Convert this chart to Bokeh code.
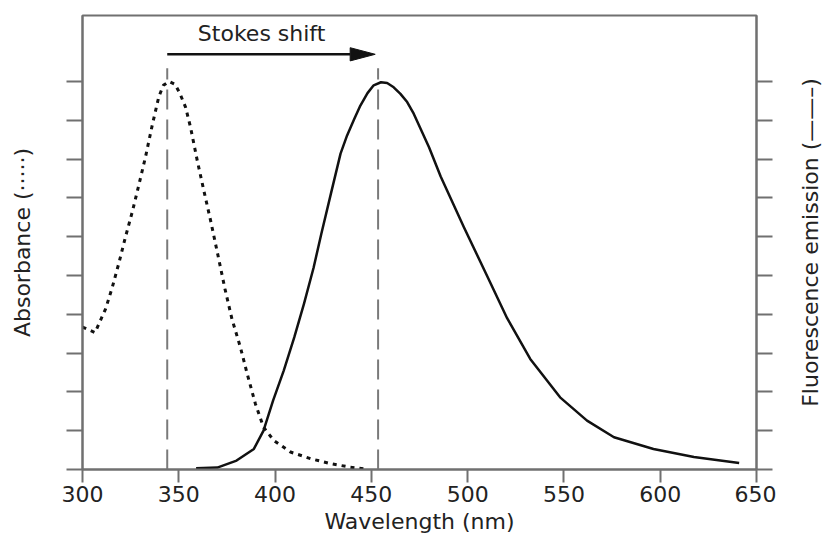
from bokeh.plotting import figure
from bokeh.layouts import row
from bokeh.models import Range1d, LinearAxis, FixedTicker
from bokeh.core.properties import value
from bokeh.embed import file_html
from bokeh.resources import INLINE

# ---- data ----
abs_wl = [300, 306.5, 312, 315.5, 319, 322.3, 325.8, 329.2, 332.7, 336.2, 339.6, 342, 345,
          348, 350.5, 353.5, 356.1, 359.6, 363, 366.5, 370, 374, 377.6, 382, 385.5, 389.8,
          394, 399.3, 408, 418.4, 428.8, 439, 446]
abs_val = [3.67, 3.53, 4.14, 4.70, 5.34, 5.99, 6.63, 7.32, 8.05, 8.87, 9.60, 9.90, 10.0,
           9.93, 9.70, 9.34, 8.82, 7.96, 7.19, 6.42, 5.60, 4.65, 3.88, 3.15, 2.47, 1.69,
           1.09, 0.75, 0.45, 0.28, 0.15, 0.06, 0.02]

em_wl = [359, 370, 380, 389, 394, 399, 404.5, 410, 415, 420, 424, 429, 434, 437.4, 441,
         444.3, 448, 451.2, 455, 458.2, 461.6, 465.1, 468.6, 472, 480, 486, 498, 510, 520.5,
         532.5, 548, 562, 576, 596.5, 617.5, 641]
em_val = [0.03, 0.05, 0.23, 0.53, 1.0, 1.78, 2.55, 3.41, 4.27, 5.2, 6.07, 7.11, 8.14, 8.61,
          9.02, 9.38, 9.70, 9.90, 9.98, 9.96, 9.85, 9.68, 9.47, 9.17, 8.3, 7.55, 6.25, 5.0,
          3.9, 2.85, 1.86, 1.26, 0.83, 0.53, 0.32, 0.17]

abs_peak = 344.0
em_peak = 453.5
peak_line_top = 10.34
arrow_start = 344.0
arrow_end = 452.0
arrow_y = 10.7
head_len = 13.0
head_half = 0.17
stokes_label = "Stokes shift"
stokes_label_x = 393.0
stokes_label_y = 11.24

x_ticks = [300, 350, 400, 450, 500, 550, 600, 650]
y_ticks = [0, 1, 2, 3, 4, 5, 6, 7, 8, 9, 10]

x_title = "Wavelength (nm)"
left_title = "Absorbance (·····)"
right_title = "Fluorescence emission (——–)"

FONT = "DejaVu Sans"
AX = "#707070"
INK = "#111111"
TXT = "#222222"

y_range = Range1d(0, 11.7)

p = figure(width=776, height=536, x_range=Range1d(300, 650), y_range=y_range,
           output_backend="svg", toolbar_location=None,
           min_border_left=82, min_border_right=20, min_border_top=15, min_border_bottom=67)
p.xgrid.visible = False
p.ygrid.visible = False
p.outline_line_color = AX
p.outline_line_width = 2
p.background_fill_color = "white"
p.border_fill_color = "white"

# bottom axis
xa = p.xaxis[0]
xa.ticker = FixedTicker(ticks=x_ticks)
xa.major_tick_in = 0
xa.major_tick_out = 13
xa.minor_tick_line_color = None
xa.axis_line_color = AX
xa.axis_line_width = 2
xa.major_tick_line_color = AX
xa.major_tick_line_width = 2
xa.major_label_text_font = FONT
xa.major_label_text_font_size = "22px"
xa.major_label_text_color = TXT
xa.major_label_standoff = 3
xa.axis_label = x_title
xa.axis_label_text_font = FONT
xa.axis_label_text_font_size = "22px"
xa.axis_label_text_font_style = "normal"
xa.axis_label_text_color = TXT
xa.axis_label_standoff = 4

def style_y(ax):
    ax.ticker = FixedTicker(ticks=y_ticks)
    ax.major_tick_in = 0
    ax.major_tick_out = 16
    ax.minor_tick_line_color = None
    ax.axis_line_color = AX
    ax.axis_line_width = 2
    ax.major_tick_line_color = AX
    ax.major_tick_line_width = 2
    ax.major_label_overrides = {t: "" for t in y_ticks}
    ax.major_label_text_color = None
    ax.major_label_standoff = 0

ya = p.yaxis[0]
style_y(ya)
ya.axis_label = left_title
ya.axis_label_text_font = FONT
ya.axis_label_text_font_size = "22px"
ya.axis_label_text_font_style = "normal"
ya.axis_label_text_color = TXT
ya.axis_label_standoff = 32

ra = LinearAxis()
style_y(ra)
p.add_layout(ra, "right")

# peak marker lines
p.segment(x0=[abs_peak, em_peak], y0=[0, 0], x1=[abs_peak, em_peak], y1=[peak_line_top, peak_line_top],
          line_color="#7a7a7a", line_width=2, line_dash="20 10")

# curves
p.line(abs_wl, abs_val, line_color=INK, line_width=3, line_dash="4 5")
p.line(em_wl, em_val, line_color=INK, line_width=2.5, line_join="round")

# Stokes shift arrow
p.segment(x0=[arrow_start], y0=[arrow_y], x1=[arrow_end - head_len], y1=[arrow_y],
          line_color=INK, line_width=2.5)
p.patch([arrow_end - head_len, arrow_end, arrow_end - head_len],
        [arrow_y + head_half, arrow_y, arrow_y - head_half],
        fill_color=INK, line_color=INK, line_width=1)
p.text(x=[stokes_label_x], y=[stokes_label_y], text=[stokes_label],
       text_font=value(FONT), text_font_size="22px", text_color=TXT,
       text_align="center", text_baseline="middle")

# narrow companion panel that carries the right-hand title (reads bottom to top)
q = figure(width=46, height=536, x_range=Range1d(0, 1), y_range=y_range,
           output_backend="svg", toolbar_location=None, x_axis_location=None,
           min_border_left=46, min_border_right=0, min_border_top=15, min_border_bottom=67)
q.xgrid.visible = False
q.ygrid.visible = False
q.outline_line_color = None
q.background_fill_color = "white"
q.border_fill_color = "white"
qa = q.yaxis[0]
qa.ticker = FixedTicker(ticks=[])
qa.axis_line_color = None
qa.major_tick_line_color = None
qa.minor_tick_line_color = None
qa.major_tick_in = 0
qa.major_tick_out = 0
qa.major_label_standoff = 0
qa.axis_label = right_title
qa.axis_label_text_font = FONT
qa.axis_label_text_font_size = "22px"
qa.axis_label_text_font_style = "normal"
qa.axis_label_text_color = TXT
qa.axis_label_standoff = 0

layout = row(p, q, spacing=0)
open("out.html", "w").write(file_html(layout, INLINE))
